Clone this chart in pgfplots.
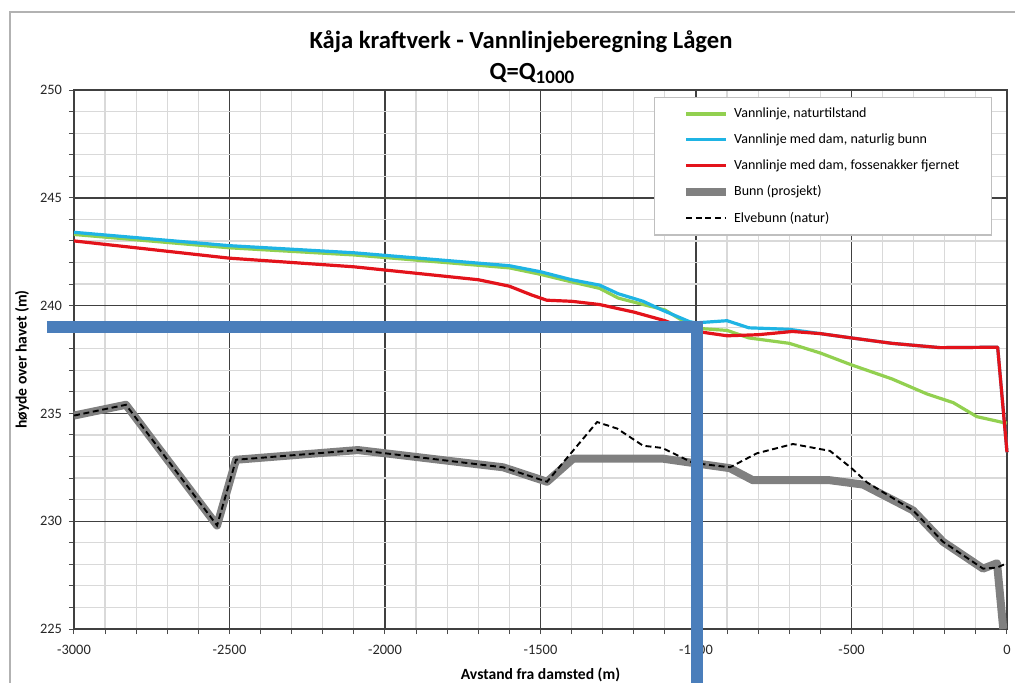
\documentclass[border=0pt]{standalone}
\usepackage{fontspec}
\setmainfont{Carlito}
\usepackage{pgfplots}
\pgfplotsset{compat=1.18}
\definecolor{cgreen}{HTML}{92D050}
\definecolor{cblue}{HTML}{1FB4E4}
\definecolor{cred}{HTML}{E3131B}
\definecolor{cgray}{HTML}{808080}
\definecolor{annot}{HTML}{4A7EBB}
\begin{document}
\begin{tikzpicture}
\begin{axis}[
  at={(0,0)}, anchor=south west,
  scale only axis, width=466.5pt, height=269.5pt,
  xmin=-3000, xmax=0, ymin=225, ymax=250,
  xtick={-3000,-2500,...,0}, ytick={225,230,...,250},
  minor x tick num=4, minor y tick num=4,
  xtick pos=left, ytick pos=left,
  tick align=outside,
  major tick length=2.5pt, minor tick length=2.5pt,
  every tick/.style={black!70, line width=0.5pt},
  grid=both,
  major grid style={black!75, line width=0.7pt},
  minor grid style={black!15, line width=0.6pt},
  axis line style={black!75, line width=0.7pt},
  /pgf/number format/assume math mode=true,
  /pgf/number format/set thousands separator={},
  ticklabel style={font=\fontsize{7.2}{8}\selectfont, text=black!85},
  xticklabel style={yshift=-2pt},
  xlabel={\textbf{Avstand fra damsted (m)}},
  ylabel={\textbf{høyde over havet (m)}},
  label style={font=\fontsize{7.8}{9}\selectfont},
  xlabel style={at={(axis description cs:0.5,-0.0853)}, anchor=center},
  ylabel style={at={(axis description cs:-0.0557,0.5)}, anchor=center, rotate=0},
  clip=false,
  legend cell align=left,
  legend style={at={(1,1)}, anchor=north east, xshift=-7.5pt, yshift=-3.5pt,
    font=\fontsize{7}{8.5}\selectfont, draw=black!25, fill=white,
    inner xsep=14pt, inner ysep=3pt, row sep=2.6pt, line width=0.6pt},
  legend image code/.code={\draw[#1] (0pt,0pt) -- (20pt,0pt);},
]
\addplot[cgreen, line width=1.6pt, line join=round] coordinates {
(-3000,243.3) (-2500,242.68) (-2100,242.35) (-1600,241.75) (-1500,241.45)
(-1400,241.1) (-1310,240.8) (-1250,240.35) (-1170,240.05) (-1100,239.8)
(-1020,239.1) (-1000,238.95) (-900,238.85) (-830,238.5) (-700,238.25)
(-600,237.8) (-500,237.25) (-370,236.6) (-257,235.9) (-173,235.5)
(-97,234.85) (-10,234.57) (0,234.55)};
\addlegendentry{Vannlinje, naturtilstand}
\addplot[cblue, line width=1.6pt, line join=round] coordinates {
(-3000,243.4) (-2500,242.78) (-2100,242.45) (-1600,241.85) (-1500,241.57)
(-1400,241.2) (-1310,240.95) (-1250,240.55) (-1170,240.2) (-1110,239.8)
(-1020,239.25) (-1000,239.2) (-900,239.3) (-830,238.97) (-700,238.9)
(-600,238.7) (-500,238.5) (-370,238.25) (-215,238.05) (-30,238.07) (0,233.2)};
\addlegendentry{Vannlinje med dam, naturlig bunn}
\addplot[cred, line width=1.6pt, line join=round] coordinates {
(-3000,243.0) (-2500,242.2) (-2100,241.8) (-1700,241.2) (-1600,240.9)
(-1530,240.5) (-1480,240.25) (-1400,240.2) (-1310,240.05) (-1200,239.7)
(-1100,239.3) (-1020,238.85) (-900,238.6) (-800,238.65) (-690,238.8)
(-600,238.7) (-500,238.5) (-370,238.25) (-215,238.05) (-30,238.07) (0,233.2)};
\addlegendentry{Vannlinje med dam, fossenakker fjernet}
\addplot[cgray, line width=4pt, line join=round] coordinates {
(-3000,234.9) (-2833,235.4) (-2540,229.8) (-2479,232.85) (-2087,233.3)
(-1620,232.5) (-1479,231.83) (-1395,232.9) (-1106,232.9) (-1009,232.7)
(-891,232.46) (-817,231.9) (-569,231.9) (-463,231.7) (-302,230.5)
(-206,229.05) (-77,227.8) (-32,228.05) (-12,225)};
\addlegendentry{Bunn (prosjekt)}
\addplot[black, line width=0.95pt, dash pattern=on 3pt off 1.8pt] coordinates {
(-3000,234.9) (-2833,235.4) (-2540,229.8) (-2479,232.85) (-2087,233.3)
(-1620,232.5) (-1479,231.83) (-1318,234.6) (-1254,234.3) (-1170,233.5)
(-1109,233.4) (-1009,232.7) (-891,232.5) (-804,233.15) (-688,233.58)
(-569,233.26) (-500,232.46) (-450,231.8) (-302,230.5) (-206,229.05)
(-77,227.8) (-32,227.85) (0,228.05)};
\addlegendentry{Elvebunn (natur)}
\addplot[annot, line width=6pt, line join=miter, forget plot] coordinates {
(-3087,239.0) (-998,239.0) (-998,222.0)};
\end{axis}
\draw[black!30, line width=0.8pt] (-32pt,-30pt) -- (-32pt,308.5pt) -- (470.5pt,308.5pt);
\node[font=\bfseries\fontsize{12.3}{14}\selectfont] at (223.5pt,293.5pt) {Kåja kraftverk - Vannlinjeberegning Lågen};
\node[font=\bfseries\fontsize{12.3}{14}\selectfont, anchor=base] at (229pt,275pt) {Q=Q{\fontsize{9.5}{10}\selectfont\raisebox{-2.2pt}{1000}}};
\pgfresetboundingbox
\useasboundingbox (-37pt,-26.5pt) rectangle (478pt,314.5pt);
\end{tikzpicture}
\end{document}
